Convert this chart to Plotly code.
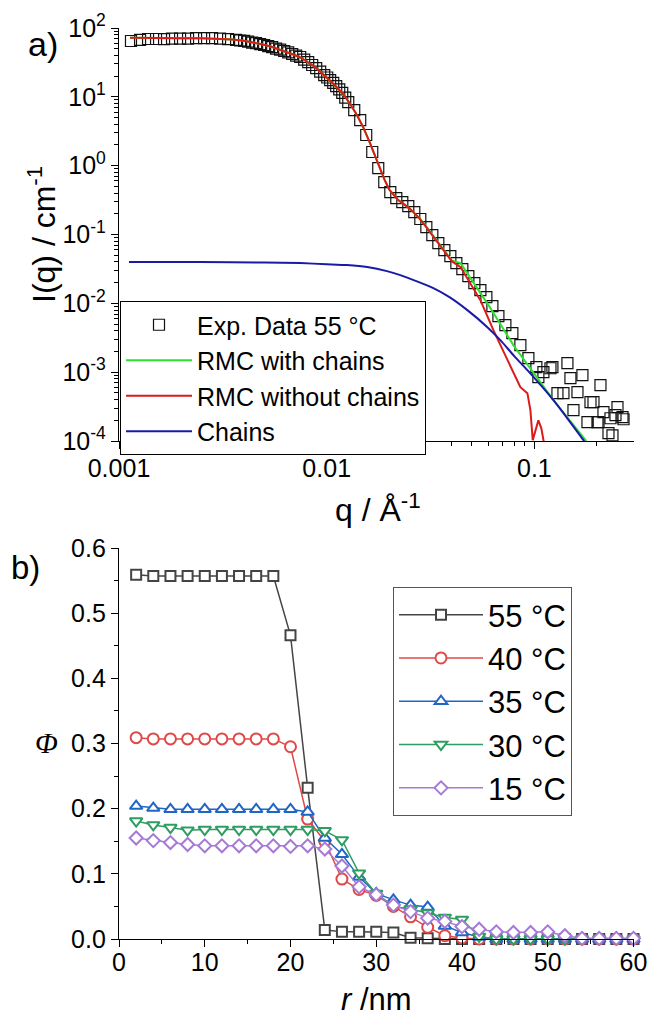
import numpy as np
import plotly.graph_objects as go

# ---------------- Panel a) data ----------------
q_exp = [0.001142, 0.001263, 0.001380, 0.001508, 0.001648, 0.001800, 0.001968, 0.002150,
         0.002350, 0.002568, 0.002806, 0.003066, 0.003351, 0.003663, 0.003829, 0.004003,
         0.004184, 0.004375, 0.004573, 0.004781, 0.004998, 0.005225, 0.005462, 0.005710,
         0.005970, 0.006241, 0.006525, 0.006820, 0.007129, 0.007453, 0.007791, 0.008145,
         0.008515, 0.008902, 0.009307, 0.009727, 0.01006, 0.01039, 0.01075, 0.01111,
         0.01149, 0.01188, 0.01228, 0.01270, 0.01357, 0.01450, 0.01550, 0.01657, 0.01771,
         0.01893, 0.02024, 0.02163, 0.02312, 0.02471, 0.02641, 0.02823, 0.03018, 0.03225,
         0.03447, 0.03685, 0.03938, 0.04209, 0.04499, 0.04809, 0.05140, 0.05495, 0.05872,
         0.06277, 0.06709, 0.07248, 0.07834, 0.08560, 0.09356, 0.1022, 0.1045, 0.1105,
         0.1195, 0.1221, 0.1291, 0.1380, 0.1442, 0.1491, 0.1542, 0.1612, 0.1703, 0.1801,
         0.1862, 0.1925, 0.2012, 0.2035, 0.2080, 0.2150, 0.2273, 0.2324, 0.2376, 0.2457,
         0.2512, 0.2656, 0.2686]
I_exp = [64.7, 67.0, 69.2, 69.2, 69.0, 70.0, 70.0, 70.0,
         71.5, 71.5, 71.5, 70.0, 69.0, 67.0, 65.8, 65.0,
         63.2, 61.5, 60.1, 58.5, 56.6, 54.7, 52.6, 50.3,
         48.4, 46.3, 44.1, 41.9, 39.8, 37.9, 34.8, 32.0,
         29.0, 26.2, 23.3, 20.7, 19.1, 17.5, 15.9, 14.3,
         12.8, 11.4, 9.77, 8.39, 6.42, 4.60, 2.79, 1.58, 0.923,
         0.578, 0.413, 0.338, 0.296, 0.259, 0.212, 0.168, 0.128, 0.098,
         0.075, 0.0593, 0.0485, 0.0384, 0.0314, 0.0248, 0.0197, 0.0156, 0.0123,
         0.0091, 0.00652, 0.00482, 0.00369, 0.00247, 0.00160, 0.00118, 0.000845, 0.00100,
         0.00114, 0.00118, 0.000495, 0.000495, 0.00135, 0.000818, 0.000281, 0.000512, 0.000904, 0.000188,
         0.000366, 0.000366, 0.000188, 0.000188, 0.000647, 0.000262, 0.000130, 0.000214, 0.000121, 0.000237,
         0.000310, 0.000222, 0.000207]

q_rmc_chains = [0.00113, 0.0015, 0.002, 0.0025, 0.003, 0.0035, 0.004, 0.0045, 0.005, 0.0055,
                0.006, 0.0065, 0.007, 0.0075, 0.008, 0.0085, 0.009, 0.0095, 0.010, 0.011,
                0.012, 0.013, 0.014, 0.015, 0.016, 0.017, 0.018, 0.019, 0.020, 0.021, 0.022,
                0.023, 0.024, 0.025, 0.026, 0.028, 0.030, 0.032, 0.034, 0.036, 0.038, 0.040,
                0.0441, 0.0614, 0.0792, 0.0989, 0.1235, 0.1762, 0.180]
I_rmc_chains = [72, 71, 71, 71, 70, 68, 65.5, 61.5, 57, 52.5,
                48, 44, 40.5, 37, 33, 29, 25.5, 22, 19, 14.5,
                11, 7.8, 5.4, 3.6, 2.3, 1.45, 0.93, 0.62, 0.45, 0.37, 0.32,
                0.29, 0.265, 0.24, 0.215, 0.172, 0.133, 0.103, 0.080, 0.064, 0.051, 0.042,
                0.0384, 0.00851, 0.00247, 0.000966, 0.000392, 0.000103, 0.000090]

q_rmc = [0.00113, 0.0015, 0.002, 0.0025, 0.003, 0.0035, 0.004, 0.0045, 0.005, 0.0055,
         0.006, 0.0065, 0.007, 0.0075, 0.008, 0.0085, 0.009, 0.0095, 0.010, 0.011,
         0.012, 0.013, 0.014, 0.015, 0.016, 0.017, 0.018, 0.019, 0.020, 0.021, 0.022,
         0.023, 0.024, 0.025, 0.026, 0.028, 0.030, 0.032, 0.034, 0.036, 0.038, 0.040,
         0.0441, 0.05495, 0.06347, 0.07413, 0.0856, 0.09253, 0.09565, 0.0982, 0.1045,
         0.1080, 0.1117]
I_rmc = [72, 71, 71, 71, 70, 68, 65.5, 61.5, 57, 52.5,
         48, 44, 40.5, 37, 33, 29, 25.5, 22, 19, 14.5,
         11, 7.8, 5.4, 3.6, 2.3, 1.45, 0.93, 0.62, 0.45, 0.37, 0.32,
         0.29, 0.265, 0.24, 0.215, 0.17, 0.13, 0.1, 0.078, 0.062, 0.05, 0.041,
         0.0336, 0.01114, 0.00407, 0.00149, 0.000605, 0.000495, 0.000281, 0.000103, 0.000200,
         0.000153, 0.000087]

q_chains = [0.001117, 0.002457, 0.005, 0.007453, 0.010, 0.0125, 0.01567, 0.0195, 0.02261,
            0.027, 0.03262, 0.039, 0.04755, 0.05936, 0.06858, 0.080, 0.09253, 0.1235,
            0.1722, 0.176]
I_chains = [0.0397, 0.0397, 0.0392, 0.0384, 0.0370, 0.0359, 0.0336, 0.0294, 0.0257,
            0.0210, 0.01664, 0.0123, 0.00796, 0.00451, 0.00292, 0.00171, 0.00107, 0.000392,
            0.000103, 0.000093]

q_tick_vals = [0.001, 0.01, 0.1]
q_tick_text = ["0.001", "0.01", "0.1"]
I_tick_vals = [1e-4, 1e-3, 1e-2, 1e-1, 1e0, 1e1, 1e2]
I_tick_text = ["10<sup>-4</sup>", "10<sup>-3</sup>", "10<sup>-2</sup>", "10<sup>-1</sup>",
               "10<sup>0</sup>", "10<sup>1</sup>", "10<sup>2</sup>"]

# ---------------- Panel b) data ----------------
r_nm = [2, 4, 6, 8, 10, 12, 14, 16, 18, 20, 22, 24, 26, 28, 30,
        32, 34, 36, 38, 40, 42, 44, 46, 48, 50, 52, 54, 56, 58, 60]
phi_55 = [0.559, 0.557, 0.557, 0.557, 0.557, 0.557, 0.557, 0.557, 0.557, 0.466, 0.232, 0.014, 0.011, 0.011, 0.011,
          0.010, 0.002, 0.001, 0.0, 0.0, 0.0, 0.0, 0.0, 0.0, 0.0, 0.0, 0.0, 0.0, 0.0, 0.0]
phi_40 = [0.309, 0.307, 0.307, 0.307, 0.307, 0.307, 0.307, 0.307, 0.307, 0.295, 0.184, 0.150, 0.092, 0.076, 0.067,
          0.050, 0.034, 0.018, 0.005, 0.0015, 0.0, 0.0, 0.0, 0.0, 0.0, 0.0, 0.0, 0.0, 0.0, 0.0]
phi_35 = [0.204, 0.201, 0.199, 0.199, 0.199, 0.199, 0.199, 0.199, 0.199, 0.199, 0.195, 0.155, 0.130, 0.095, 0.070,
          0.060, 0.052, 0.049, 0.020, 0.010, 0.003, 0.0, 0.0, 0.0, 0.0, 0.0, 0.0, 0.0, 0.0, 0.0]
phi_30 = [0.181, 0.175, 0.171, 0.167, 0.168, 0.168, 0.168, 0.168, 0.168, 0.168, 0.168, 0.166, 0.152, 0.101, 0.070,
          0.050, 0.046, 0.040, 0.033, 0.030, 0.004, 0.0, 0.0, 0.0, 0.0, 0.0, 0.0, 0.0, 0.0, 0.0]
phi_15 = [0.155, 0.151, 0.148, 0.145, 0.143, 0.143, 0.143, 0.143, 0.143, 0.142, 0.143, 0.138, 0.112, 0.080, 0.068,
          0.052, 0.042, 0.032, 0.027, 0.019, 0.015, 0.011, 0.010, 0.010, 0.011, 0.005, 0.001, 0.001, 0.001, 0.001]

# ---------------- Figure ----------------
W, H = 647, 1018
FONT = "Liberation Sans, Arial, sans-serif"


def fx(p):
    return p / W


def fy(p):
    return 1 - p / H


fig = go.Figure()

# panel a
fig.add_trace(go.Scatter(x=q_exp, y=I_exp, mode="markers", name="Exp. Data 55 °C",
                         marker=dict(symbol="square-open", size=11, color="#111111",
                                     line=dict(width=1.2, color="#111111")),
                         xaxis="x", yaxis="y", legend="legend"))
fig.add_trace(go.Scatter(x=q_rmc_chains, y=I_rmc_chains, mode="lines", name="RMC with chains",
                         line=dict(color="#2fe02f", width=2),
                         xaxis="x", yaxis="y", legend="legend"))
fig.add_trace(go.Scatter(x=q_rmc, y=I_rmc, mode="lines", name="RMC without chains",
                         line=dict(color="#dd1a1a", width=2),
                         xaxis="x", yaxis="y", legend="legend"))
fig.add_trace(go.Scatter(x=q_chains, y=I_chains, mode="lines", name="Chains",
                         line=dict(color="#1a1aa8", width=2, shape="spline", smoothing=0.6),
                         xaxis="x", yaxis="y", legend="legend"))

# panel b
series_b = [
    ("55 °C", phi_55, "#444444", "square", 10),
    ("40 °C", phi_40, "#e04848", "circle", 11),
    ("35 °C", phi_35, "#2166c4", "triangle-up", 11),
    ("30 °C", phi_30, "#2e9d62", "triangle-down", 11),
    ("15 °C", phi_15, "#a57ad6", "diamond", 10),
]
for name, vals, col, sym, sz in series_b:
    fig.add_trace(go.Scatter(x=r_nm, y=vals, mode="lines+markers", name=name,
                             line=dict(color=col, width=1.5),
                             marker=dict(symbol=sym, size=sz, color="white",
                                         line=dict(color=col, width=2)),
                             cliponaxis=False,
                             xaxis="x2", yaxis="y2", legend="legend2"))

axis_common = dict(showline=True, linecolor="black", linewidth=1.3, mirror=False,
                   ticks="outside", ticklen=7, tickwidth=1.3, tickcolor="black",
                   showgrid=False, zeroline=False, automargin=False,
                   ticklabeloverflow="allow",
                   tickfont=dict(size=25, family=FONT, color="black"))

q_minor = [m * 10.0 ** e for e in (-3, -2, -1) for m in range(2, 10) if m * 10.0 ** e <= 0.3]
I_minor = [m * 10.0 ** e for e in (-4, -3, -2, -1, 0, 1) for m in range(2, 10)]

xdom = [fx(119), fx(633.5)]
fig.update_layout(
    width=W, height=H,
    margin=dict(l=0, r=0, t=0, b=0, autoexpand=False),
    paper_bgcolor="white", plot_bgcolor="white",
    font=dict(family=FONT, color="black"),
    xaxis=dict(domain=xdom, anchor="y", type="log", range=[-3, np.log10(0.3)],
               tickmode="array", tickvals=q_tick_vals, ticktext=q_tick_text,
               ticklabelstandoff=-2,
               minor=dict(tickmode="array", tickvals=q_minor, ticks="outside",
                          ticklen=4, tickwidth=1, tickcolor="black", showgrid=False),
               **axis_common),
    yaxis=dict(domain=[fy(441), fy(28)], anchor="x", type="log", range=[-4, 2],
               tickmode="array", tickvals=I_tick_vals, ticktext=I_tick_text,
               minor=dict(tickmode="array", tickvals=I_minor, ticks="outside",
                          ticklen=4, tickwidth=1, tickcolor="black", showgrid=False),
               **axis_common),
    xaxis2=dict(domain=xdom, anchor="y2", range=[0, 60], dtick=10,
                ticklabelstandoff=-6,
                minor=dict(dtick=5, ticks="outside", ticklen=4, tickwidth=1,
                           tickcolor="black", showgrid=False),
                **axis_common),
    yaxis2=dict(domain=[fy(939), fy(548)], anchor="x2", range=[0, 0.6], dtick=0.1,
                tickformat=".1f",
                minor=dict(dtick=0.05, ticks="outside", ticklen=4, tickwidth=1,
                           tickcolor="black", showgrid=False),
                **axis_common),
    legend=dict(x=fx(120), y=fy(301), xanchor="left", yanchor="top",
                bgcolor="white", bordercolor="black", borderwidth=1,
                font=dict(size=25, family=FONT, color="black"),
                itemwidth=66, tracegroupgap=0),
    legend2=dict(x=fx(393), y=fy(587), xanchor="left", yanchor="top",
                 bgcolor="white", bordercolor="#555555", borderwidth=1,
                 font=dict(size=31, family=FONT, color="black"),
                 itemwidth=84, tracegroupgap=0),
    showlegend=True,
)

ann = [
    dict(text="a)", x=fx(43), y=fy(44), font=dict(size=34)),
    dict(text="b)", x=fx(25), y=fy(567), font=dict(size=33)),
    dict(text="I(q) / cm<sup>-1</sup>", x=fx(42), y=fy(235), textangle=-90, font=dict(size=32)),
    dict(text="q / Å<sup>-1</sup>", x=fx(378), y=fy(508), font=dict(size=32)),
    dict(text="<i>Φ</i>", x=fx(46), y=fy(742),
         font=dict(size=30, family="Liberation Serif, DejaVu Serif, serif")),
    dict(text="<i>r</i> /nm", x=fx(376), y=fy(999), font=dict(size=31)),
]
for a in ann:
    a.update(xref="paper", yref="paper", showarrow=False, xanchor="center", yanchor="middle")
    a["font"].setdefault("family", FONT)
    a["font"].setdefault("color", "black")
fig.update_layout(annotations=ann)

# remove the default 8 px page margin so the figure fills the 647x1018 window exactly
fig.write_html("out.html",
               config={"displayModeBar": False},
               post_script="document.body.style.margin='0px';document.body.style.overflow='hidden';")
